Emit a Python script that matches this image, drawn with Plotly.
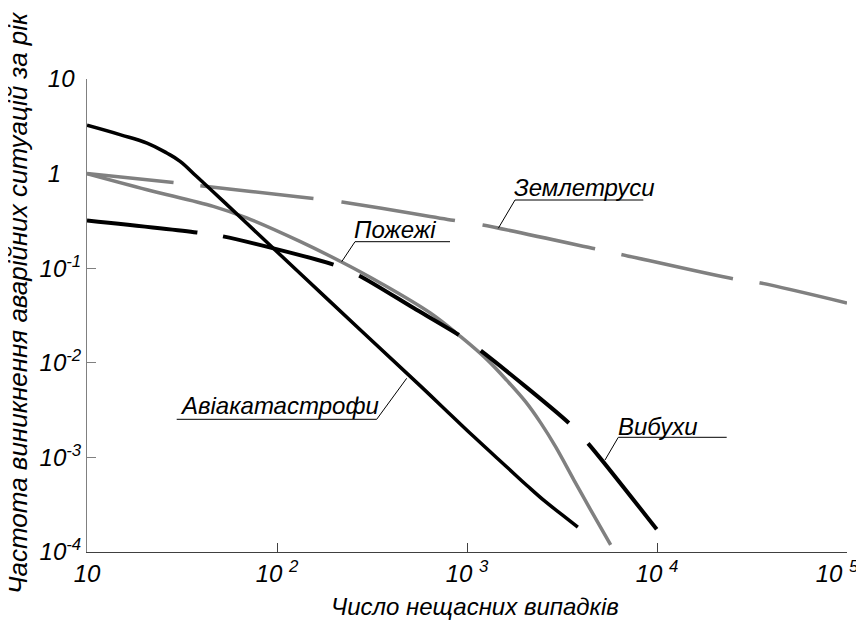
import plotly.graph_objects as go

# ---------------- data ----------------
avia_x = [10, 14.9, 20.7, 26.3, 30.9, 37.8, 46.1, 69.3, 132, 274, 568, 722, 1081,
          1626, 2075, 2588, 3184, 3830]
avia_y = [3.24, 2.58, 2.10, 1.65, 1.35, 0.93, 0.644, 0.2985, 0.0883, 0.0224, 0.0057,
          0.00361, 0.00167, 0.000787, 0.000502, 0.00034, 0.000245, 0.000183]

fire_x = [10, 20.7, 46.2, 69.3, 132, 224, 350, 641, 923, 1276, 1626, 2032, 2438, 2924,
          3648, 4467, 5702]
fire_y = [1.0, 0.676, 0.450, 0.340, 0.192, 0.1135, 0.0698, 0.0336, 0.0190, 0.0108,
          0.00647, 0.00388, 0.00233, 0.0013, 0.00058, 0.00028, 0.000119]

expl_x = [10, 37.8, 51.9, 198.6, 271, 524, 903, 1178, 3436, 4345, 10000]
expl_y = [0.320, 0.239, 0.217, 0.109, 0.0834, 0.0379, 0.0198, 0.0135, 0.00231, 0.00140,
          0.000172]

quake_x = [10, 28.5, 39.4, 132, 220, 869, 1211, 4742, 6561, 25410, 35075, 100000]
quake_y = [1.0, 0.807, 0.745, 0.566, 0.501, 0.318, 0.286, 0.160, 0.139, 0.0769, 0.0698,
           0.0429]

x_tickvals = [10, 100, 1000, 10000, 100000]
x_ticktext = ["10", "10 <sup>2</sup>", "10 <sup>3</sup>", "10 <sup>4</sup>",
              "10 <sup>5</sup>\u00a0\u00a0\u00a0"]
y_tickvals = [1e-4, 1e-3, 1e-2, 1e-1, 1, 10]
y_ticktext = ["10<sup>-4</sup>", "10<sup>-3</sup>", "10<sup>-2</sup>", "10<sup>-1</sup>",
              "1\u00a0\u00a0\u00a0", "10\u00a0"]

label_quake = "Землетруси"
label_fire = "Пожежі"
label_avia = "Авіакатастрофи"
label_expl = "Вибухи"
x_title = "Число нещасних випадків"
y_title = "Частота виникнення аварійних ситуацій за рік"

# ---------------- figure ----------------
FONT = "Liberation Sans"
GRAY = "#808080"
PAGE = 8                      # browser body margin
L, T, W, H = 87, 79, 760, 473  # plot area on screen


def px(xp):
    return (xp - L) / W


def py(yp):
    return (T + H - yp) / H


fig = go.Figure()
fig.add_trace(go.Scatter(x=quake_x, y=quake_y, mode="lines", name=label_quake,
                         line=dict(color=GRAY, width=3.5, shape="spline", smoothing=0.8,
                                   dash="87px,27px,114px,28px,115px,28px,115px,27px,114px,27px,120px")))
fig.add_trace(go.Scatter(x=fire_x, y=fire_y, mode="lines", name=label_fire,
                         line=dict(color=GRAY, width=3.5, shape="spline", smoothing=1.0)))
fig.add_trace(go.Scatter(x=expl_x, y=expl_y, mode="lines", name=label_expl,
                         line=dict(color="black", width=4, shape="spline", smoothing=0.8,
                                   dash="111px,26px,114px,28px,116px,27px,114px,28px,110px,60px")))
fig.add_trace(go.Scatter(x=avia_x, y=avia_y, mode="lines", name=label_avia,
                         line=dict(color="black", width=3.5, shape="spline", smoothing=1.2)))

# leader lines + underlines (screen pixel positions converted to paper)
leaders = [
    ((515, 200), (643.3, 200), (498.3, 228.3)),
    ((355, 241.7), (450, 241.7), (341.7, 261.7)),
    ((376.7, 419.3), (176.7, 419.3), (406.7, 378.3)),
    ((618.3, 437.3), (726.7, 437.3), (605, 460)),
]
for (a, b, c) in leaders:
    fig.add_shape(type="line", xref="paper", yref="paper", x0=px(a[0]), y0=py(a[1]),
                  x1=px(b[0]), y1=py(b[1]), line=dict(color="black", width=1))
    fig.add_shape(type="line", xref="paper", yref="paper", x0=px(a[0]), y0=py(a[1]),
                  x1=px(c[0]), y1=py(c[1]), line=dict(color="black", width=1))

labels = [(label_quake, 512, 188), (label_fire, 352, 230), (label_avia, 178, 405),
          (label_expl, 616, 426)]
for text, xp, yp in labels:
    fig.add_annotation(text=text, xref="paper", yref="paper", x=px(xp), y=py(yp),
                       xanchor="left", yanchor="middle", showarrow=False,
                       font=dict(family=FONT, size=24, color="black", style="italic"))

fig.add_annotation(text=x_title, xref="paper", yref="paper", x=px(475), y=py(606),
                   xanchor="center", yanchor="middle", showarrow=False,
                   font=dict(family=FONT, size=24, color="black", style="italic"))
fig.add_annotation(text=y_title, xref="paper", yref="paper", x=px(18), y=py(303),
                   xanchor="center", yanchor="middle", showarrow=False, textangle=-90,
                   font=dict(family=FONT, size=26, color="black", style="italic"))

fig.update_xaxes(type="log", range=[1, 5], tickvals=x_tickvals, ticktext=x_ticktext,
                 ticks="inside", ticklen=9, tickcolor="#404040", showline=True,
                 linecolor="#404040", linewidth=1, showgrid=False, zeroline=False,
                 automargin=False, ticklabeloverflow="allow",
                 tickfont=dict(family=FONT, size=24, color="black", style="italic"))
fig.update_yaxes(type="log", range=[-4, 1], tickvals=y_tickvals, ticktext=y_ticktext,
                 ticks="inside", ticklen=9, tickcolor=GRAY, showline=True,
                 linecolor=GRAY, linewidth=1, showgrid=False, zeroline=False,
                 automargin=False, ticklabeloverflow="allow",
                 tickfont=dict(family=FONT, size=24, color="black", style="italic"))

FIG_W, FIG_H = 864 - PAGE, 623 - PAGE
fig.update_layout(width=FIG_W, height=FIG_H,
                  margin=dict(l=L - PAGE, r=FIG_W - (L - PAGE) - W, t=T - PAGE,
                              b=FIG_H - (T - PAGE) - H),
                  plot_bgcolor="white", paper_bgcolor="white", showlegend=False,
                  font=dict(family=FONT, size=24, color="black", style="italic"))

fig.write_html("out.html")
